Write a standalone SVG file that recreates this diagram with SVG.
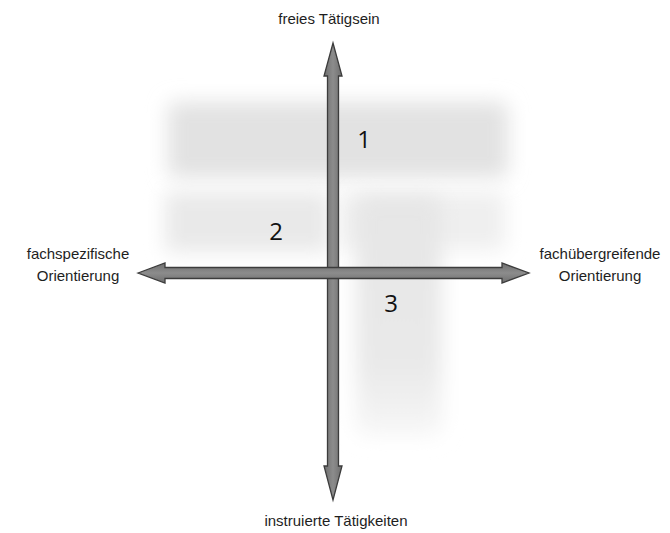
<svg xmlns="http://www.w3.org/2000/svg" width="670" height="533" viewBox="0 0 670 533">
<defs>
<filter id="blur" x="-40%" y="-40%" width="180%" height="180%"><feGaussianBlur stdDeviation="10"/></filter>
<linearGradient id="gv" x1="0" y1="0" x2="1" y2="0"><stop offset="0" stop-color="#6e6e6e"/><stop offset="0.5" stop-color="#8c8c8c"/><stop offset="1" stop-color="#6e6e6e"/></linearGradient>
<linearGradient id="gh" x1="0" y1="0" x2="0" y2="1"><stop offset="0" stop-color="#6e6e6e"/><stop offset="0.5" stop-color="#8c8c8c"/><stop offset="1" stop-color="#6e6e6e"/></linearGradient>
<linearGradient id="fade" x1="0" y1="0" x2="0" y2="1"><stop offset="0" stop-color="#e6e6e6"/><stop offset="0.7" stop-color="#e9e9e9"/><stop offset="1" stop-color="#f7f7f7"/></linearGradient>
</defs>
<style>
.lbl{font-family:"Liberation Sans",Arial,sans-serif;font-size:15px;fill:#1e1e1e;text-anchor:middle}
.num{font-family:"Open Sans","Liberation Sans",sans-serif;font-size:24px;fill:#111;text-anchor:middle}
.arrow{stroke:#3c3c3c;stroke-width:1.3;stroke-linejoin:miter}
.blob{fill:#e2e2e2;filter:url(#blur)}
</style>
<rect width="670" height="533" fill="#ffffff"/>
<g id="background">
<rect class="blob" x="168" y="102" width="340" height="76" rx="8"/>
<rect class="blob" x="165" y="192" width="165" height="60" rx="4" style="fill:#e9e9e9"/>
<rect class="blob" x="340" y="192" width="165" height="58" rx="4" style="fill:#efefef"/>
<rect class="blob" x="356" y="196" width="86" height="240" rx="10" style="fill:url(#fade)"/>
</g>
<g id="connectors">
<polygon id="axis-vertical" class="arrow" fill="url(#gv)" points="333,43 342,76 338.5,76 338.5,466 342,466 333,500 324,466 327.5,466 327.5,76 324,76"/>
<polygon id="axis-horizontal" class="arrow" fill="url(#gh)" points="138,273 165,263 165,267.5 502,267.5 502,263 529,273 502,283 502,278.5 165,278.5 165,283"/>
</g>
<g id="label-top"><text class="lbl" x="329" y="24">freies Tätigsein</text></g>
<g id="label-bottom"><text class="lbl" x="336" y="526">instruierte Tätigkeiten</text></g>
<g id="label-left"><text class="lbl" x="78" y="259">fachspezifische</text><text class="lbl" x="78" y="281">Orientierung</text></g>
<g id="label-right"><text class="lbl" x="600" y="259">fachübergreifende</text><text class="lbl" x="600" y="281">Orientierung</text></g>
<g id="field-1"><text class="num" x="364" y="148">1</text></g>
<g id="field-2"><text class="num" x="276" y="240">2</text></g>
<g id="field-3"><text class="num" x="391" y="312">3</text></g>
</svg>
